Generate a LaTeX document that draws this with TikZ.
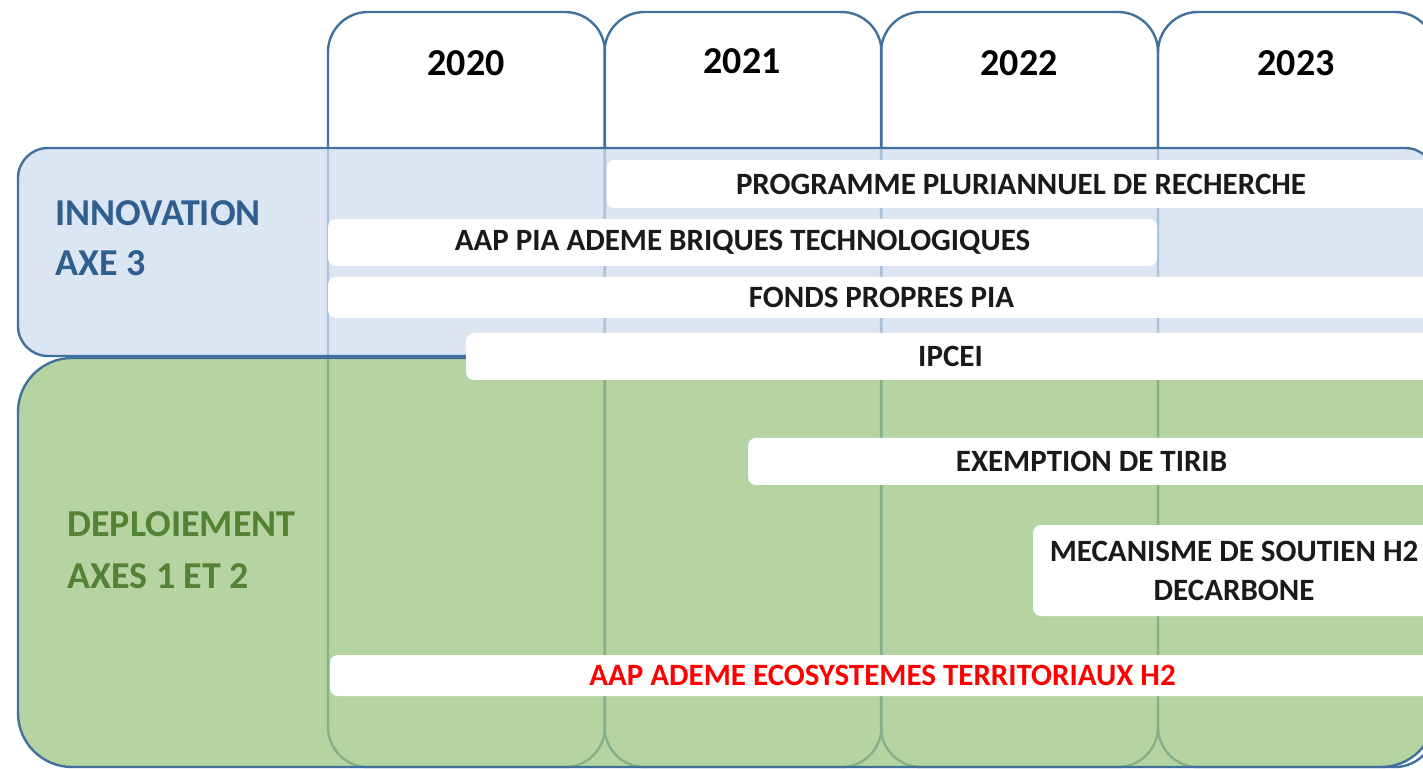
\documentclass[tikz,border=0pt]{standalone}
\usepackage{fontspec}
\setmainfont{Carlito}
\definecolor{frame}{HTML}{41719C}
\definecolor{innofill}{RGB}{208,222,238}
\definecolor{deplfill}{RGB}{158,198,131}
\definecolor{innotext}{HTML}{2F5F8F}
\definecolor{depltext}{HTML}{548235}
\definecolor{redtext}{HTML}{FF0000}
\definecolor{bartext}{HTML}{1A1A1A}
\begin{document}
\begin{tikzpicture}[x=0.5pt,y=-0.5pt,
  yearcol/.style={draw=frame, line width=1.2pt, rounded corners=20pt,
    minimum width=138.5pt, minimum height=377.5pt, inner sep=0pt},
  yearlabel/.style={font=\fontsize{19}{23}\selectfont\bfseries, text=black, inner sep=0pt},
  axisbox/.style={draw=frame, line width=1.2pt, fill opacity=0.75,
    minimum width=708.5pt, inner sep=0pt},
  axislabel/.style={font=\fontsize{19}{25}\selectfont\bfseries, align=left,
    inner sep=0pt, anchor=west},
  bar/.style={fill=white, rounded corners=4pt, inner sep=0pt,
    font=\fontsize{15.5}{19.5}\selectfont\bfseries, text=bartext, align=center}
]
\useasboundingbox (0,0) rectangle (1423,769);
\clip (0,0) rectangle (1423,769);

% year columns
\node[yearcol] (c2020) at (466.5,389.5) {};
\node[yearcol] (c2021) at (743,389.5) {};
\node[yearcol] (c2022) at (1019.5,389.5) {};
\node[yearcol] (c2023) at (1296.5,389.5) {};

% axis bands (translucent, the column borders show through)
\node[axisbox, fill=innofill, rounded corners=15pt, minimum height=104pt] (inno) at (726.5,252) {};
\node[axisbox, fill=deplfill, rounded corners=27pt, minimum height=204.5pt] (depl) at (726.5,562.5) {};

% year headers
\node[yearlabel] (y2020) at (466,63) {2020};
\node[yearlabel] (y2021) at (742,61) {2021};
\node[yearlabel] (y2022) at (1019,63) {2022};
\node[yearlabel] (y2023) at (1296,63) {2023};

% axis titles
\node[axislabel, text=innotext] (innolab) at (55,238) {INNOVATION\\AXE 3};
\node[axislabel, text=depltext, font=\fontsize{19}{26}\selectfont\bfseries] (depllab) at (67,550) {DEPLOIEMENT\\AXES 1 ET 2};

% funding schemes
\node[bar, minimum width=414pt, minimum height=24pt] (prog) at (1021,184) {PROGRAMME PLURIANNUEL DE RECHERCHE};
\node[bar, minimum width=414.5pt, minimum height=23.5pt] (briq) at (742.5,242.5) {AAP PIA ADEME BRIQUES TECHNOLOGIQUES};
\node[bar, minimum width=553.5pt, minimum height=20.5pt] (fonds) at (881.5,297.5) {FONDS PROPRES PIA};
\node[bar, minimum width=484.5pt, minimum height=23.5pt] (ipcei) at (950.5,356.5) {IPCEI};
\node[bar, minimum width=343.5pt, minimum height=23.5pt] (tirib) at (1091.5,461.5) {EXEMPTION DE TIRIB};
\node[bar, minimum width=201pt, minimum height=45.5pt] (meca) at (1234,570.5) {MECANISME DE SOUTIEN H2\\DECARBONE};
\node[bar, minimum width=552.5pt, minimum height=20.5pt, text=redtext] (eco) at (882.5,675.5) {AAP ADEME ECOSYSTEMES TERRITORIAUX H2};
\end{tikzpicture}
\end{document}
